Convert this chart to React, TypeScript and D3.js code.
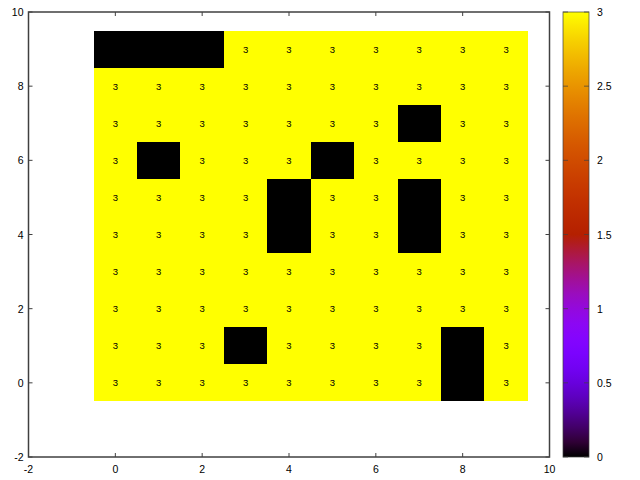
import React from "react";
import * as d3 from "d3";

const xTicks = [-2, 0, 2, 4, 6, 8, 10];
const yTicks = [-2, 0, 2, 4, 6, 8, 10];
const cbTicks = [0, 0.5, 1, 1.5, 2, 2.5, 3];
const cbTickLabels = ["0", "0.5", "1", "1.5", "2", "2.5", "3"];
// rows from y=0 to y=9, columns x=0..9
const row0 = [3, 3, 3, 3, 3, 3, 3, 3, 0, 3];
const row1 = [3, 3, 3, 0, 3, 3, 3, 3, 0, 3];
const row2 = [3, 3, 3, 3, 3, 3, 3, 3, 3, 3];
const row3 = [3, 3, 3, 3, 3, 3, 3, 3, 3, 3];
const row4 = [3, 3, 3, 3, 0, 3, 3, 0, 3, 3];
const row5 = [3, 3, 3, 3, 0, 3, 3, 0, 3, 3];
const row6 = [3, 0, 3, 3, 3, 0, 3, 3, 3, 3];
const row7 = [3, 3, 3, 3, 3, 3, 3, 0, 3, 3];
const row8 = [3, 3, 3, 3, 3, 3, 3, 3, 3, 3];
const row9 = [0, 0, 0, 3, 3, 3, 3, 3, 3, 3];
const rows = [row0, row1, row2, row3, row4, row5, row6, row7, row8, row9];

function palette(t: number) {
  const c = (v: number) => Math.max(0, Math.min(1, v));
  const r = c(Math.sqrt(t));
  const g = c(t * t * t);
  const b = c(Math.sin(2 * Math.PI * t));
  return d3.rgb(r * 255, g * 255, b * 255).toString();
}

export default function App() {
  const L = 28.5, R = 549.5, T = 12, B = 457;
  const x = d3.scaleLinear().domain([-2, 10]).range([L, R]);
  const y = d3.scaleLinear().domain([-2, 10]).range([B, T]);
  const zmin = 0, zmax = 3;
  const cbL = 563, cbR = 589;
  const cy = d3.scaleLinear().domain([zmin, zmax]).range([B, T]);
  const font = "'Liberation Sans', Arial, sans-serif";
  const axisColor = "#404040";
  const cells: any[] = [];
  rows.forEach((row, j) =>
    row.forEach((v, i) => cells.push({ i, j, v }))
  );
  const nGrad = 30;
  const stops = d3.range(nGrad + 1).map((k) => k / nGrad);
  return (
    <svg width={640} height={480} style={{ position: "absolute", left: 0, top: 0 }}>
      <defs>
        <linearGradient id="cb" x1="0" y1="1" x2="0" y2="0">
          {stops.map((s) => (
            <stop key={s} offset={s} stopColor={palette(s)} />
          ))}
        </linearGradient>
      </defs>
      <rect width={640} height={480} fill="white" />
      <g shapeRendering="crispEdges">
        {cells.map((c) => {
          const x0 = Math.round(x(c.i - 0.5));
          const x1 = Math.round(x(c.i + 0.5));
          const y0 = Math.round(y(c.j + 0.5));
          const y1 = Math.round(y(c.j - 0.5));
          return (
            <rect
              key={`r${c.i}-${c.j}`}
              x={x0}
              y={y0}
              width={x1 - x0}
              height={y1 - y0}
              fill={palette((c.v - zmin) / (zmax - zmin))}
            />
          );
        })}
      </g>
      {cells.map((c) => (
        <text
          key={`t${c.i}-${c.j}`}
          x={x(c.i)}
          y={y(c.j) + 3.5}
          textAnchor="middle"
          fontFamily={font}
          fontSize={9.5}
          fill="black"
        >
          {c.v}
        </text>
      ))}
      {/* border */}
      <rect x={L} y={T} width={R - L} height={B - T} fill="none" stroke={axisColor} strokeWidth={1.5} />
      {xTicks.map((t) => (
        <g key={`xt${t}`}>
          <line x1={x(t)} x2={x(t)} y1={B} y2={B - 4} stroke={axisColor} />
          <line x1={x(t)} x2={x(t)} y1={T} y2={T + 4} stroke={axisColor} />
          <text x={x(t)} y={B + 16} textAnchor="middle" fontFamily={font} fontSize={10.5} fill="black">
            {t}
          </text>
        </g>
      ))}
      {yTicks.map((t) => (
        <g key={`yt${t}`}>
          <line x1={L} x2={L + 4} y1={y(t)} y2={y(t)} stroke={axisColor} />
          <line x1={R} x2={R - 4} y1={y(t)} y2={y(t)} stroke={axisColor} />
          <text x={L - 5} y={y(t) + 4} textAnchor="end" fontFamily={font} fontSize={10.5} fill="black">
            {t}
          </text>
        </g>
      ))}
      {/* colorbar */}
      <rect x={cbL} y={T} width={cbR - cbL} height={B - T} fill="url(#cb)" />
      <rect x={cbL} y={T} width={cbR - cbL} height={B - T} fill="none" stroke={axisColor} strokeOpacity={0.7} strokeWidth={1} />
      {cbTicks.map((t, k) => (
        <g key={`cb${t}`}>
          <line x1={cbL} x2={cbL + 5} y1={cy(t)} y2={cy(t)} stroke={axisColor} strokeOpacity={0.7} />
          <line x1={cbR} x2={cbR - 5} y1={cy(t)} y2={cy(t)} stroke={axisColor} strokeOpacity={0.7} />
          <text x={cbR + 8} y={cy(t) + 4} textAnchor="start" fontFamily={font} fontSize={10.5} fill="black">
            {cbTickLabels[k]}
          </text>
        </g>
      ))}
    </svg>
  );
}
